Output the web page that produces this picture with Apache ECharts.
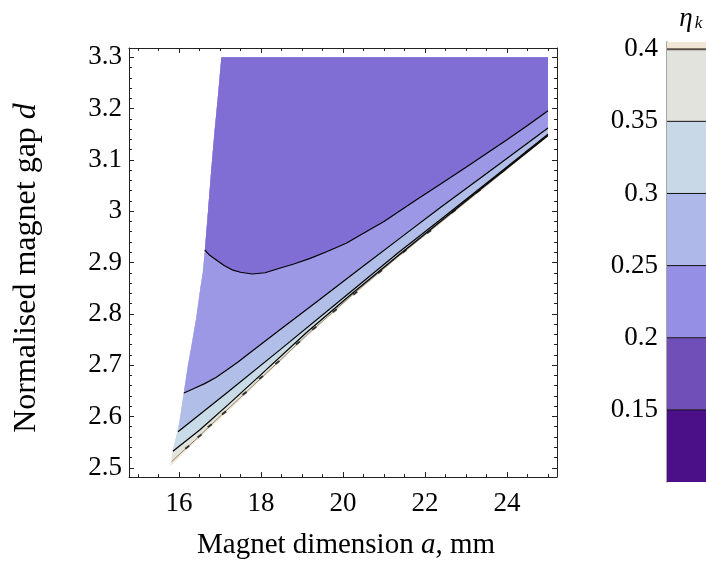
<!DOCTYPE html>
<html><head><meta charset="utf-8">
<script src="https://cdn.jsdelivr.net/npm/echarts@6/dist/echarts.min.js"></script>
<style>html,body{margin:0;padding:0;background:#fff}#c{width:706px;height:565px}</style>
</head><body><div id="c"></div>
<script>
// ---- data ----
const xTickValues = [16, 18, 20, 22, 24];
const yTickValues = [2.5, 2.6, 2.7, 2.8, 2.9, 3.0, 3.1, 3.2, 3.3];
const barTickValues = [0.15, 0.2, 0.25, 0.3, 0.35, 0.4];
// domain boundaries (a, d)
const leftEdge = [[17.033,3.300],[16.95,3.225],[16.86,3.150],[16.78,3.075],[16.706,2.999],[16.63,2.924],[16.58,2.88],[16.52,2.85],[16.424,2.794],[16.32,2.745],[16.219,2.700],[16.12,2.648],[16.017,2.593],[15.93,2.56],[15.854,2.535],[15.80,2.510]];
const bottomEdge = [[15.79,2.503],[16.139,2.531],[16.45,2.554],[16.748,2.577],[17.35,2.622],[17.966,2.669],[18.5,2.709],[19.104,2.755],[20.2,2.832],[21.376,2.911],[23.325,3.037],[25,3.145]];
// contour lines, from bottom (highest eta) to top (lowest eta)
const contour040 = [[15.82,2.512],[16.139,2.5355],[16.45,2.558],[16.748,2.5813],[17.35,2.626],[17.966,2.672],[18.5,2.712],[19.104,2.7577],[20.2,2.835],[21.376,2.9136],[23.325,3.039],[25,3.1466]];
const contour035 = [[15.85,2.532],[16.15,2.551],[16.504,2.5735],[17.2,2.623],[17.966,2.679],[19.104,2.763],[20.2,2.838],[21.376,2.9156],[23.2,3.033],[25,3.1476]];
const contour030 = [[15.976,2.570],[17.2,2.648],[18.453,2.7292],[19.9,2.824],[21.376,2.921],[22.351,2.982],[23.7,3.067],[25,3.150]];
const contour025 = [[16.12,2.6456],[16.35,2.654],[16.626,2.664],[16.9,2.676],[17.155,2.690],[17.44,2.706],[17.722,2.7236],[18.453,2.7684],[19.4,2.826],[20.402,2.8873],[21.4,2.948],[22.351,3.0057],[23.7,3.085],[25,3.1622]];
const contour020 = [[16.63,2.924],[16.75,2.914],[16.911,2.905],[17.1,2.894],[17.315,2.885],[17.5,2.881],[17.778,2.8776],[18.1,2.880],[18.453,2.8887],[18.8,2.897],[19.2,2.908],[19.6,2.921],[20.078,2.9374],[20.5,2.957],[21.0,2.980],[21.783,3.0218],[22.4,3.054],[23.001,3.0856],[24.0,3.139],[24.5,3.167],[25,3.1959]];
// dark specks along the lower edge (broken contour fragments)
const edgeSpecks = [[16.2,2.54],[16.5,2.562],[16.75,2.582],[17.1,2.607],[17.6,2.645],[18.0,2.676],[18.4,2.705],[18.9,2.743],[19.3,2.772],[19.8,2.806],[20.3,2.84],[20.9,2.882],[21.5,2.922],[22.1,2.96],[22.7,3.0],[23.3,3.039],[23.9,3.078],[24.5,3.117]];
const regionLowerBounds = [bottomEdge, contour040, contour035, contour030, contour025, contour020];
const regionColors = ['#f1e6d3', '#e2e4dc', '#c9dbe6', '#b0bee8', '#9d98e6', '#806ed4'];
// colour bar
const barLevels = [0.1, 0.15, 0.2, 0.25, 0.3, 0.35, 0.4, 0.405];
const barColors = ['#4b0f87', '#714fb9', '#958fe6', '#afb9e9', '#c8d8e6', '#e2e3dc', '#f1e6d3'];

const xMinorTicks = []; for (let v = 15; v <= 25.001; v += 0.5) xMinorTicks.push(+v.toFixed(2));
const yMinorTicks = []; for (let v = 2.5; v <= 3.3001; v += 0.02) yMinorTicks.push(+v.toFixed(2));

const FONT = 'Liberation Serif';
const frameColor = '#222';
const LABEL_SIZE = 27;

function regionPolygon(lower) {
  const pts = lower.slice();
  pts.push([25, 3.3]);
  const y0 = lower[0][1];
  leftEdge.forEach(p => { if (p[1] > y0) pts.push(p); });
  return pts;
}

function xAx(pos, ticks, len, showLine, showLabel) {
  return {
    type: 'value', gridIndex: 0, position: pos, min: 14.78, max: 25.22,
    axisLine: { show: showLine, onZero: false, lineStyle: { color: frameColor, width: 1 } },
    axisTick: { show: true, inside: true, length: len, customValues: ticks, lineStyle: { color: frameColor, width: 1 } },
    axisLabel: { show: showLabel, customValues: xTickValues, fontFamily: FONT, fontSize: LABEL_SIZE, color: '#000', margin: 13 },
    splitLine: { show: false }
  };
}
function yAx(pos, ticks, len, showLine, showLabel) {
  return {
    type: 'value', gridIndex: 0, position: pos, min: 2.482, max: 3.318,
    axisLine: { show: showLine, onZero: false, lineStyle: { color: frameColor, width: 1 } },
    axisTick: { show: true, inside: true, length: len, customValues: ticks, lineStyle: { color: frameColor, width: 1 } },
    axisLabel: { show: showLabel, customValues: yTickValues, fontFamily: FONT, fontSize: LABEL_SIZE, color: '#000', margin: 7 },
    splitLine: { show: false }
  };
}

const contourLines = [
  { d: contour040, c: '#7a6a5a', w: 0.8 },
  { d: contour035, c: '#000', w: 1.2 },
  { d: contour030, c: '#000', w: 1.2 },
  { d: contour025, c: '#000', w: 1.2 },
  { d: contour020, c: '#000', w: 1.2 }
];

const option = {
  animation: false,
  textStyle: { fontFamily: FONT },
  grid: [
    { left: 129, top: 48, width: 428, height: 429 },
    { left: 667, top: 42, width: 80, height: 440 }
  ],
  xAxis: [
    xAx('bottom', xTickValues, 5, true, true),
    xAx('top', xTickValues, 5, true, false),
    xAx('bottom', xMinorTicks, 3, false, false),
    xAx('top', xMinorTicks, 3, false, false),
    { type: 'value', gridIndex: 1, min: 0, max: 1, show: false }
  ],
  yAxis: [
    yAx('left', yTickValues, 5, true, true),
    yAx('right', yTickValues, 5, true, false),
    yAx('left', yMinorTicks, 3, false, false),
    yAx('right', yMinorTicks, 3, false, false),
    {
      type: 'value', gridIndex: 1, position: 'left', min: 0.1, max: 0.405,
      axisLine: { show: true, lineStyle: { color: '#888', width: 1.5 } },
      axisTick: { show: false },
      axisLabel: { customValues: barTickValues, fontFamily: FONT, fontSize: LABEL_SIZE, color: '#000', margin: 9 },
      splitLine: { show: false }
    }
  ],
  graphic: [
    { type: 'text', x: 346, y: 545, style: { text: '{n|Magnet dimension }{i|a}{n|, mm}', align: 'center', verticalAlign: 'middle',
      rich: { n: { fontFamily: FONT, fontSize: 29, fill: '#000' }, i: { fontFamily: FONT, fontSize: 29, fontStyle: 'italic', fill: '#000' } } } },
    { type: 'text', x: 27, y: 268, rotation: Math.PI / 2, style: { text: '{n|Normalised magnet gap }{i|d}', align: 'center', verticalAlign: 'middle',
      rich: { n: { fontFamily: FONT, fontSize: 32, fill: '#000' }, i: { fontFamily: FONT, fontSize: 32, fontStyle: 'italic', fill: '#000' } } } },
    { type: 'text', x: 686, y: 19, style: { text: 'η', fontFamily: FONT, fontSize: 27, fontStyle: 'italic', fill: '#000', align: 'center', verticalAlign: 'middle' } },
    { type: 'text', x: 698.5, y: 24, style: { text: 'k', fontFamily: FONT, fontSize: 17, fontStyle: 'italic', fill: '#000', align: 'center', verticalAlign: 'middle' } }
  ],
  series: [
    {
      type: 'custom', xAxisIndex: 0, yAxisIndex: 0, clip: true, z: 1,
      data: regionLowerBounds.map((b, i) => [i]),
      renderItem: (params, api) => {
        const pts = regionPolygon(regionLowerBounds[params.dataIndex]).map(p => api.coord(p));
        return { type: 'polygon', shape: { points: pts }, style: { fill: regionColors[params.dataIndex] } };
      }
    },
    ...contourLines.map(l => ({
      type: 'line', xAxisIndex: 0, yAxisIndex: 0, data: l.d, symbol: 'none', smooth: false, z: 3,
      lineStyle: { color: l.c, width: l.w }
    })),
    {
      type: 'scatter', xAxisIndex: 0, yAxisIndex: 0, data: edgeSpecks, z: 4,
      symbol: 'rect', symbolSize: [5, 2], symbolRotate: 37, itemStyle: { color: '#111' }
    },
    {
      type: 'custom', xAxisIndex: 4, yAxisIndex: 4, clip: false, z: 2,
      data: barColors.map((c, i) => [0, barLevels[i], barLevels[i + 1]]),
      encode: { x: 0, y: [1, 2] },
      renderItem: (params, api) => {
        const i = params.dataIndex;
        const p0 = api.coord([0, barLevels[i + 1]]);
        const p1 = api.coord([1, barLevels[i]]);
        const ch = [{ type: 'rect', shape: { x: p0[0], y: p0[1], width: p1[0] - p0[0], height: p1[1] - p0[1] }, style: { fill: barColors[i] } }];
        if (i > 0) ch.push({ type: 'line', shape: { x1: p0[0], y1: p1[1], x2: p1[0], y2: p1[1] },
          style: { stroke: i === 6 ? '#5a5048' : '#111', lineWidth: i === 6 ? 2 : 1 } });
        return { type: 'group', children: ch };
      }
    }
  ]
};
const chart = echarts.init(document.getElementById('c'), null, { renderer: 'canvas' });
chart.setOption(option);
</script></body></html>
